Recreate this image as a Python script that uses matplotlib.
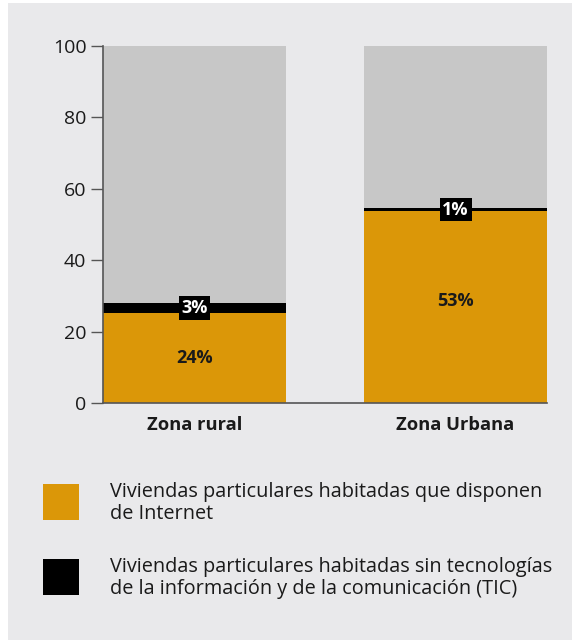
import matplotlib
matplotlib.use("Agg")
import matplotlib.pyplot as plt
from matplotlib.patches import Rectangle

categories = ["Zona rural", "Zona Urbana"]
internet = [25.2, 53.9]          # bar heights
sin_tic = [2.8, 0.6]
internet_labels = ["24%", "53%"]
sin_tic_labels = ["3%", "1%"]
yticks = [0, 20, 40, 60, 80, 100]
legend_labels = ["Viviendas particulares habitadas que disponen\nde Internet",
                 "Viviendas particulares habitadas sin tecnologías\nde la información y de la comunicación (TIC)"]

ORANGE = "#db9708"
BLACK = "#000000"
GRAY = "#c7c7c7"
BG = "#e9e9eb"
TXT = "#1a1a1a"

plt.rcParams['font.family'] = ['Open Sans', 'DejaVu Sans']

W, H = 572, 640
fig = plt.figure(figsize=(W / 100, H / 100), dpi=100)
fig.patch.set_facecolor("white")
fig.add_artist(Rectangle((8 / W, 0), 1, 1 - 3 / H, transform=fig.transFigure,
                         facecolor=BG, edgecolor="none", zorder=-10))

ax = fig.add_axes([103 / W, 1 - 403 / H, (547 - 103) / W, (403 - 46) / H])
ax.set_facecolor("none")

x = list(range(len(categories)))
width = 0.7
tops = [a + b for a, b in zip(internet, sin_tic)]
rest = [100 - t for t in tops]
ax.bar(x, internet, width, color=ORANGE, zorder=2)
ax.bar(x, sin_tic, width, bottom=internet, color=BLACK, zorder=2)
ax.bar(x, rest, width, bottom=tops, color=GRAY, zorder=2)

label_y = [internet[0] / 2, internet[1] / 2 + 1.5]
for i in x:
    ax.text(i, label_y[i], internet_labels[i], ha="center", va="center",
            fontsize=13, fontweight="bold", color=TXT, zorder=5)
    ax.text(i, internet[i] + sin_tic[i] / 2, sin_tic_labels[i], ha="center", va="center",
            fontsize=13, fontweight="bold", color="white", zorder=5,
            bbox=dict(boxstyle="square,pad=0.15", facecolor=BLACK, edgecolor="none"))

ax.set_xlim(-0.35, 1.35)
ax.set_ylim(0, 100)
ax.set_yticks(yticks)
ax.set_yticklabels([str(v) for v in yticks], fontsize=14, color=TXT)
ax.set_xticks(x)
ax.set_xticklabels(categories, fontsize=13.2, fontweight="bold", color=TXT)
ax.tick_params(axis="x", length=0, pad=9)
ax.tick_params(axis="y", length=9, width=1, color="#555555", pad=3)
for s in ["top", "right"]:
    ax.spines[s].set_visible(False)
for s in ["left", "bottom"]:
    ax.spines[s].set_color("#555555")
    ax.spines[s].set_linewidth(1.2)

# legend
for k, (col, lab) in enumerate(zip([ORANGE, BLACK], legend_labels)):
    ytop = [484, 559][k]
    fig.add_artist(Rectangle((43 / W, 1 - (ytop + 36) / H), 36 / W, 36 / H,
                             transform=fig.transFigure, facecolor=col, edgecolor="none"))
    fig.text(110 / W, 1 - (ytop + 19) / H, lab, ha="left", va="center",
             fontsize=14.3, color=TXT, linespacing=1.12)

fig.savefig("out.png", dpi=100, facecolor=fig.get_facecolor())
